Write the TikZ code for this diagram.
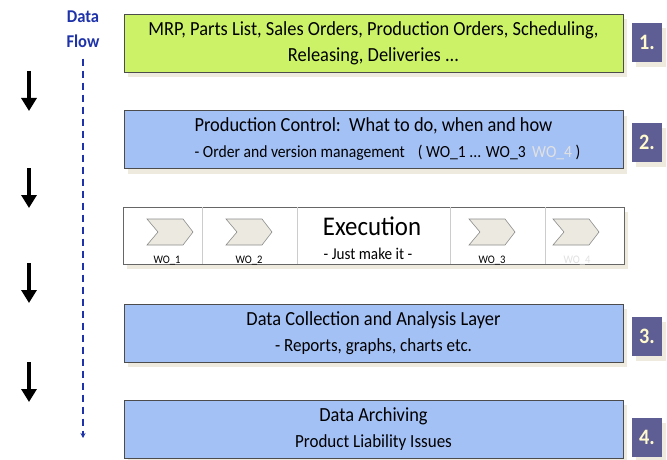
\documentclass[tikz,border=0pt]{standalone}
\usepackage{fontspec}
\setmainfont{Carlito}
\usetikzlibrary{arrows.meta,shadows}
\definecolor{lgreen}{RGB}{204,243,104}
\definecolor{lblue}{RGB}{164,193,245}
\definecolor{numbg}{RGB}{94,94,148}
\definecolor{numfg}{RGB}{255,250,205}
\definecolor{shad}{RGB}{238,235,222}
\definecolor{flowblue}{RGB}{30,50,170}
\definecolor{chevfill}{RGB}{236,234,224}
\definecolor{wofaint}{RGB}{225,225,225}
\newcommand{\sqz}[1]{\scalebox{0.92}[1]{#1}}
\newcommand{\fb}{\fontsize{18.5}{26}\selectfont}
\tikzset{
  layer/.style={draw=black!70, line width=0.8pt, minimum width=499pt, minimum height=58pt,
    align=center, inner sep=0pt, font=\fontsize{20}{26}\selectfont,
    general shadow={shadow xshift=4pt, shadow yshift=-5pt, fill=shad, draw=none}},
  numbox/.style={fill=numbg, text=numfg, minimum width=30pt, minimum height=39pt, inner sep=0pt,
    general shadow={shadow xshift=4pt, shadow yshift=-5pt, fill=shad, draw=none},
    font=\bfseries\fontsize{22}{22}\selectfont},
  flowarrow/.style={line width=4pt, -{Triangle[length=13pt,width=15pt]}},
  divider/.style={draw=black!20, line width=0.6pt},
  wolabel/.style={font=\fontsize{11.5}{11.5}\selectfont, inner sep=0pt},
  pics/chev/.style={code={
    \draw[fill=chevfill, draw=black!45, line width=0.6pt]
      (-23,-13) -- (13,-13) -- (23,0) -- (13,13) -- (-23,13) -- (-12,0) -- cycle;}}
}
\begin{document}
\begin{tikzpicture}[x=1pt,y=-1pt]
\useasboundingbox (0,0) rectangle (667,460);

% Data flow label and dashed line
\node[font=\bfseries\fontsize{18}{25}\selectfont, text=flowblue, align=center, inner sep=0pt] (df) at (83,29) {\sqz{Data}\\\sqz{Flow}};
\coordinate (dfend) at (83,438);
\draw[flowblue, line width=1.1pt, dash pattern=on 7pt off 5pt, shorten <=11pt,
  -{Stealth[length=5pt,width=5pt]}] (df.south) -- (dfend);

% black arrows
\coordinate (a1s) at (29,71);  \coordinate (a1e) at (29,111);
\coordinate (a2s) at (29,168); \coordinate (a2e) at (29,208);
\coordinate (a3s) at (29,263); \coordinate (a3e) at (29,303);
\coordinate (a4s) at (29,362); \coordinate (a4e) at (29,402);
\draw[flowarrow] (a1s) -- (a1e);
\draw[flowarrow] (a2s) -- (a2e);
\draw[flowarrow] (a3s) -- (a3e);
\draw[flowarrow] (a4s) -- (a4e);

% layers
\node[layer, fill=lgreen] (l1) at (373.5,43)
  {\sqz{MRP, Parts List, Sales Orders, Production Orders, Scheduling,}\\\sqz{Releasing, Deliveries ...}};
\node[layer, fill=lblue] (l2) at (373.5,139.5)
  {\sqz{Production Control:\ \ What to do, when and how}\\\fontsize{17}{26}\selectfont\hspace*{28pt}\sqz{- Order and version management\hspace{14pt}( WO\_1 ... WO\_3\hspace{7pt}{\color{wofaint}WO\_4} )}};
\node[layer, fill=lblue] (l3) at (373.5,333)
  {\sqz{Data Collection and Analysis Layer}\\\fb\sqz{- Reports, graphs, charts etc.}};
\node[layer, fill=lblue] (l4) at (373.5,429)
  {\sqz{Data Archiving}\\\fb\sqz{Product Liability Issues}};

% number boxes
\node[numbox] (n1) at (647,42.5) {\sqz{1.}};
\node[numbox] (n2) at (647,142.5) {\sqz{2.}};
\node[numbox] (n3) at (647,336) {\sqz{3.}};
\node[numbox] (n4) at (647,437.5) {\sqz{4.}};

% execution band
\node[draw=black!60, fill=white, line width=0.8pt, minimum width=501pt, minimum height=57pt, inner sep=0pt,
  general shadow={shadow xshift=4pt, shadow yshift=-5pt, fill=shad, draw=none}] (ex) at (373.5,235.5) {};
\coordinate (d1) at (202,0); \coordinate (d2) at (297,0);
\coordinate (d3) at (450,0); \coordinate (d4) at (545,0);
\draw[divider] (ex.north -| d1) -- (ex.south -| d1);
\draw[divider] (ex.north -| d2) -- (ex.south -| d2);
\draw[divider] (ex.north -| d3) -- (ex.south -| d3);
\draw[divider] (ex.north -| d4) -- (ex.south -| d4);

\node[font=\fontsize{27}{27}\selectfont, inner sep=0pt] (exT) at (372,226) {\sqz{Execution}};
\node[font=\fontsize{16.5}{16.5}\selectfont, inner sep=0pt] (exS) at (368,254) {\sqz{- Just make it -}};

\pic (c1) at (170,232) {chev};
\pic (c2) at (249,232) {chev};
\pic (c3) at (492,232) {chev};
\pic (c4) at (576,232) {chev};
\node[wolabel] (w1) at (167,261) {\sqz{WO\_1}};
\node[wolabel] (w2) at (249,261) {\sqz{WO\_2}};
\node[wolabel] (w3) at (492,261) {\sqz{WO\_3}};
\node[wolabel, text=wofaint] (w4) at (577,261) {\sqz{WO\_4}};
\end{tikzpicture}
\end{document}
